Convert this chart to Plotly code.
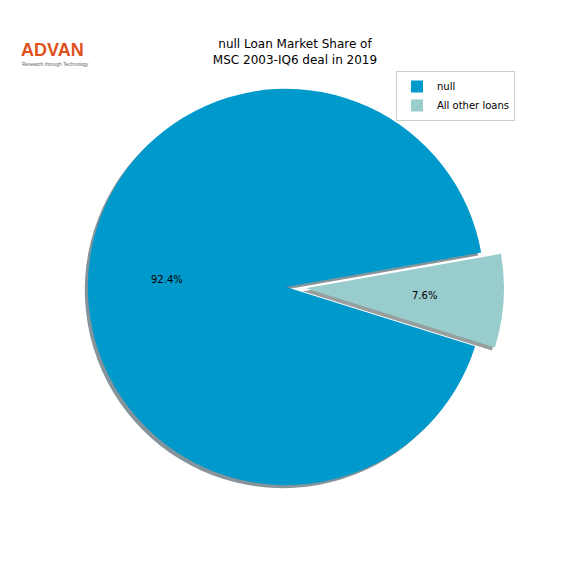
import math
import plotly.graph_objects as go

labels = ['null', 'All other loans']
shares = [92.4, 7.6]
colors = ['#0099CC', '#99CCCC']
shadow_colors = ['#84949a', '#969e9e']
pulls = [0, 0.1]
start_angle = 10  # degrees, counter-clockwise from 3 o'clock (matplotlib style)

W = H = 576
font = 'DejaVu Sans'

# pie domain in paper coords
dom_x = [68 / W, 504 / W]
dom_y = [1 - 505 / H, 1 - 69 / H]
shift = 3 / W

total = sum(shares)
# plotly goes clockwise from 12 o'clock; first slice ends at start_angle going ccw
rot = 90 - start_angle + 360 * sum(shares[1:]) / total

fig = go.Figure()

# shadow underneath
fig.add_trace(go.Pie(
    labels=labels, values=shares, sort=False, direction='clockwise',
    rotation=rot, pull=pulls, textinfo='none', hoverinfo='skip',
    marker=dict(colors=shadow_colors, line=dict(width=0)), showlegend=False,
    domain=dict(x=[dom_x[0] - shift, dom_x[1] - shift], y=[dom_y[0] - shift, dom_y[1] - shift]),
))

fig.add_trace(go.Pie(
    labels=labels, values=shares, sort=False, direction='clockwise',
    rotation=rot, pull=pulls, textinfo='none',
    marker=dict(colors=colors, line=dict(width=0)),
    domain=dict(x=dom_x, y=dom_y),
))

# percentage labels at 0.6 of radius, like matplotlib's pctdistance
cx = (dom_x[0] + dom_x[1]) / 2 * W
cy = (dom_y[0] + dom_y[1]) / 2 * H
r = min(dom_x[1] - dom_x[0], dom_y[1] - dom_y[0]) * W / 2 / (1 + max(pulls))
a0 = start_angle
for val, p in zip(shares, pulls):
    span = val / total * 360
    mid = math.radians(a0 + span / 2)
    px = cx + (p + 0.6) * r * math.cos(mid)
    py = cy + (p + 0.6) * r * math.sin(mid)
    fig.add_annotation(x=px / W, y=py / H, xref='paper', yref='paper',
                       xanchor='center', yanchor='middle',
                       text=f'{val:.1f}%', showarrow=False,
                       font=dict(family=font, size=10, color='black'))
    a0 += span

# logo
fig.add_annotation(x=20 / W, y=1 - 61 / H, xref='paper', yref='paper',
                   xanchor='left', yanchor='bottom', borderpad=0,
                   text='<b>ADVAN</b>', showarrow=False,
                   font=dict(family='Liberation Sans', size=18, color='#E0501C'))
fig.add_annotation(x=21 / W, y=1 - 60 / H, xref='paper', yref='paper',
                   xanchor='left', yanchor='top', borderpad=0,
                   text='Research through Technology', showarrow=False,
                   font=dict(family='Liberation Sans', size=5, color='#666666'))

fig.update_layout(
    width=W, height=H,
    margin=dict(l=0, r=0, t=0, b=0),
    paper_bgcolor='white', plot_bgcolor='white',
    title=dict(text='null Loan Market Share of<br>MSC 2003-IQ6 deal in 2019',
               x=295 / W, xanchor='center', y=1 - 48 / H, yanchor='top',
               font=dict(family=font, size=12, color='black')),
    legend=dict(x=396 / W, y=1 - 71 / H, xanchor='left', yanchor='top',
                bgcolor='white', bordercolor='#cccccc', borderwidth=1,
                font=dict(family=font, size=10, color='black')),
)

fig.write_html('out.html', config={'displayModeBar': False},
               post_script="document.body.style.margin='0';")
